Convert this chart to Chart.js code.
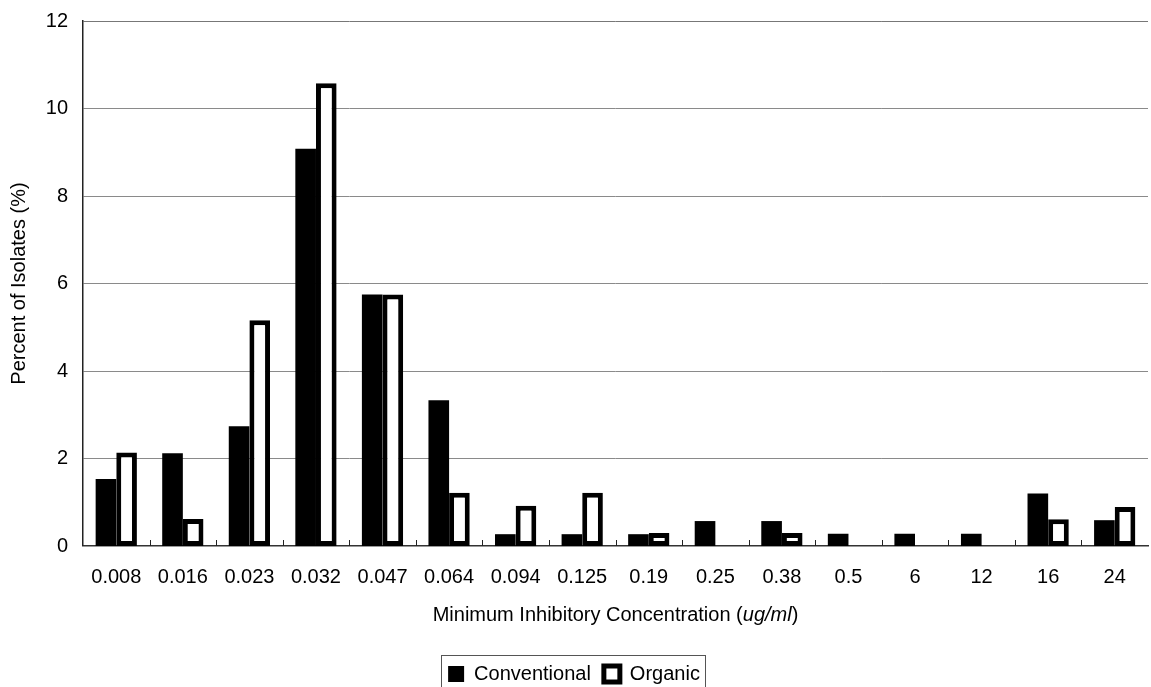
<!DOCTYPE html>
<html>
<head>
<meta charset="utf-8">
<script src="https://cdn.jsdelivr.net/npm/chart.js@4"></script>
<style>
  html, body { margin: 0; padding: 0; background: #fff; }
</style>
</head>
<body>
<canvas id="mic" width="1151" height="687"></canvas>
<script>
const labels = ['0.008', '0.016', '0.023', '0.032', '0.047', '0.064', '0.094', '0.125',
                '0.19', '0.25', '0.38', '0.5', '6', '12', '16', '24'];
const conventional = [1.53, 2.12, 2.74, 9.08, 5.75, 3.33, 0.27, 0.27,
                      0.27, 0.57, 0.57, 0.28, 0.28, 0.28, 1.2, 0.59];
const organic = [2.14, 0.62, 5.16, 10.58, 5.75, 1.22, 0.92, 1.22,
                 0.3, null, 0.3, null, null, null, 0.61, 0.89];
const yTicks = [0, 2, 4, 6, 8, 10, 12];

const FONT = 'Arial, "Liberation Sans", Helvetica, sans-serif';
const FSIZE = 20;
const PLOT_BOTTOM = 546;

// x title has italic units, so it's drawn by hand; also inward tick marks + legend frame
const extras = {
  id: 'extras',
  afterDraw(chart) {
    const ctx = chart.ctx;
    const x = chart.scales.x;
    const area = chart.chartArea;
    ctx.save();
    // small inward ticks between categories
    ctx.strokeStyle = '#222';
    ctx.lineWidth = 1;
    const n = labels.length;
    for (let i = 1; i < n; i++) {
      const px = Math.round(x.left + i * (x.width / n)) + 0.5;
      ctx.beginPath();
      ctx.moveTo(px, area.bottom);
      ctx.lineTo(px, area.bottom - 6);
      ctx.stroke();
    }
    // axis title with italic units
    const partA = 'Minimum Inhibitory Concentration (';
    const partB = 'ug/ml';
    const partC = ')';
    ctx.fillStyle = '#000';
    ctx.textBaseline = 'middle';
    ctx.textAlign = 'left';
    const normal = FSIZE + 'px ' + FONT;
    const ital = 'italic ' + FSIZE + 'px ' + FONT;
    ctx.font = normal;
    const wA = ctx.measureText(partA).width;
    const wC = ctx.measureText(partC).width;
    ctx.font = ital;
    const wB = ctx.measureText(partB).width;
    let sx = (area.left + area.right) / 2 - (wA + wB + wC) / 2;
    const sy = 615;
    ctx.font = normal;
    ctx.fillText(partA, sx, sy);
    ctx.font = ital;
    ctx.fillText(partB, sx + wA, sy);
    ctx.font = normal;
    ctx.fillText(partC, sx + wA + wB, sy);
    // frame round the legend
    const boxes = chart.legend.legendHitBoxes;
    if (boxes && boxes.length) {
      let l = Infinity, r = -Infinity, t = Infinity;
      boxes.forEach(b => {
        l = Math.min(l, b.left);
        r = Math.max(r, b.left + b.width);
        t = Math.min(t, b.top);
      });
      ctx.strokeStyle = '#555';
      ctx.lineWidth = 1;
      ctx.strokeRect(Math.round(l - 7) + 0.5, Math.round(t - 9) + 0.5, Math.round(r - l + 12), 60);
    }
    ctx.restore();
  }
};

new Chart(document.getElementById('mic'), {
  type: 'bar',
  data: {
    labels: labels,
    datasets: [{
      label: 'Conventional',
      data: conventional,
      backgroundColor: '#000',
      borderColor: '#000',
      borderWidth: 0,
      barPercentage: 1.0,
      categoryPercentage: 0.62
    }, {
      label: 'Organic',
      data: organic,
      backgroundColor: '#fff',
      borderColor: '#000',
      borderWidth: 5,
      borderSkipped: false,
      barPercentage: 1.0,
      categoryPercentage: 0.62
    }]
  },
  options: {
    responsive: false,
    animation: false,
    devicePixelRatio: 1,
    layout: { padding: { top: 21, right: 3, left: 0, bottom: -7 } },
    plugins: {
      tooltip: { enabled: false },
      legend: {
        position: 'bottom',
        labels: {
          color: '#000',
          font: { family: FONT, size: FSIZE },
          boxWidth: 16,
          boxHeight: 16,
          padding: 13
        }
      }
    },
    scales: {
      x: {
        grid: { display: false, drawTicks: false },
        border: { display: true, color: '#333', width: 1.5 },
        ticks: { color: '#000', font: { family: FONT, size: FSIZE }, padding: 19, maxRotation: 0, autoSkip: false },
        afterFit(scale) {
          const ch = scale.chart;
          const lh = ch.legend ? ch.legend.height : 0;
          const padB = ch.options.layout.padding.bottom;
          scale.height = ch.height - padB - PLOT_BOTTOM - lh;
        }
      },
      y: {
        min: 0,
        max: 12,
        afterBuildTicks(scale) {
          scale.ticks = yTicks.map(v => ({ value: v }));
        },
        grid: {
          color: ctx => ctx.tick && ctx.tick.value === 12 ? '#777' : '#8a8a8a',
          lineWidth: ctx => ctx.tick && ctx.tick.value === 0 ? 0 : 1,
          drawTicks: false
        },
        border: { display: true, color: '#222', width: 1.5 },
        ticks: { color: '#000', font: { family: FONT, size: FSIZE }, padding: 15 },
        title: {
          display: true,
          text: 'Percent of Isolates (%)',
          color: '#000',
          font: { family: FONT, size: FSIZE },
          padding: { top: 7, bottom: 0 }
        },
        afterFit(scale) {
          scale.width = 83;
          scale.paddingTop = 0;
          scale.paddingBottom = 0;
        }
      }
    }
  },
  plugins: [extras]
});
</script>
</body>
</html>
